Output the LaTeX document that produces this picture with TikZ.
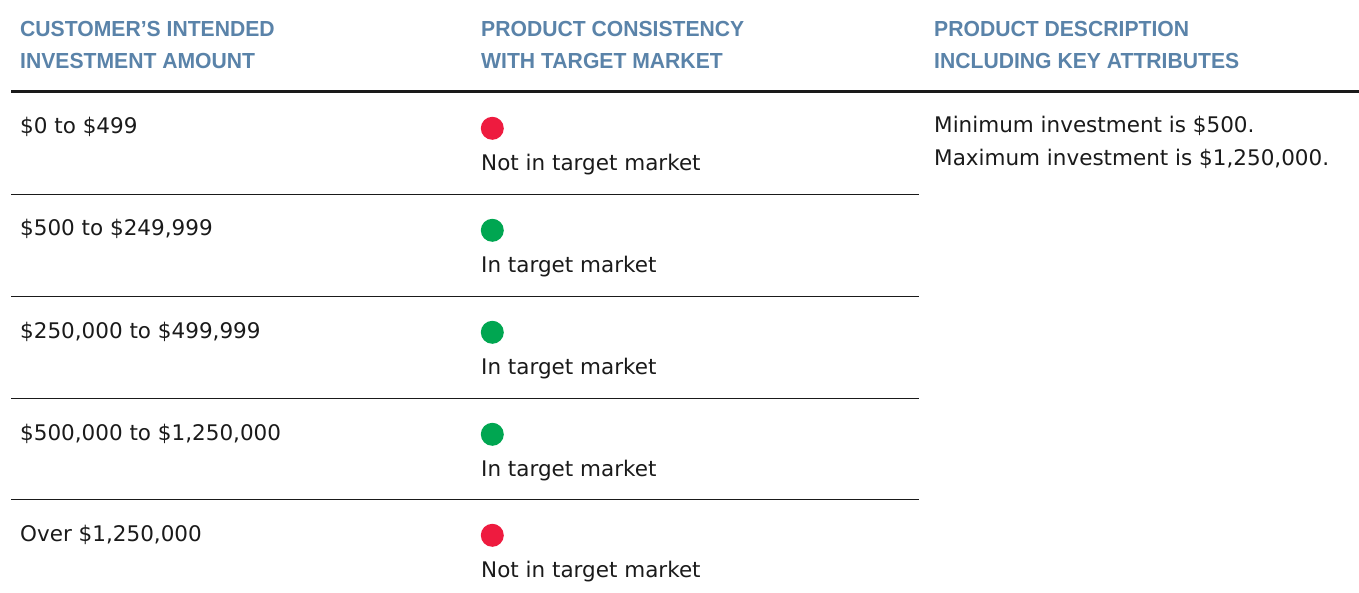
\documentclass[tikz,border=0pt]{standalone}
\usepackage{fontspec}
\setmainfont{DejaVu Sans}
\newfontfamily\hdrfont[FakeStretch=0.97]{Liberation Sans}
\definecolor{hdrblue}{HTML}{5A83A9}
\definecolor{dotred}{HTML}{EE1B3F}
\definecolor{dotgreen}{HTML}{00A651}
\definecolor{txt}{HTML}{1A1A1A}
\tikzset{
  hdr/.style={anchor=base west, inner sep=0pt, font=\hdrfont\bfseries\fontsize{21.8}{32}\selectfont, text=hdrblue, align=left},
  body/.style={anchor=base west, inner sep=0pt, font=\fontsize{21.5}{33.3}\selectfont, text=txt, align=left},
  reddot/.style={circle, fill=dotred, minimum size=23pt, inner sep=0pt},
  greendot/.style={circle, fill=dotgreen, minimum size=23pt, inner sep=0pt},
  thin/.style={line width=1.3pt, txt},
  thick/.style={line width=3pt, txt}
}
\begin{document}
\begin{tikzpicture}[x=1pt,y=-1pt]
\useasboundingbox (0,0) rectangle (1359,593);
% headers (anchor at baseline of last line)
\node[hdr] (h1) at (20,69) {CUSTOMER’S INTENDED\\INVESTMENT AMOUNT};
\node[hdr] (h2) at (481,69) {PRODUCT CONSISTENCY\\WITH TARGET MARKET};
\node[hdr] (h3) at (934,69) {PRODUCT DESCRIPTION\\INCLUDING KEY ATTRIBUTES};
% rules
\coordinate (tl) at (11,91.5);
\coordinate (tr) at (1359,91.5);
\draw[thick] (tl) -- (tr);
\foreach \y [count=\i] in {194.5,296.5,398.5,499.5}{
  \coordinate (l\i) at (11,\y);
  \coordinate (r\i) at (919,\y);
  \draw[thin] (l\i) -- (r\i);
}
% rows
\foreach \y/\amt/\st/\lab [count=\i] in {
  134/{\$0 to \$499}/reddot/{Not in target market},
  236/{\$500 to \$249,999}/greendot/{In target market},
  338/{\$250,000 to \$499,999}/greendot/{In target market},
  440/{\$500,000 to \$1,250,000}/greendot/{In target market},
  541/{Over \$1,250,000}/reddot/{Not in target market}}{
  \node[body] (amt\i) at (20,\y) {\amt};
  \node[\st] (dot\i) at (492.3,\y-5.7) {};
  \node[body] (lab\i) at (481,\y+36.7) {\lab};
}
\node[body] (desc) at (934,166) {Minimum investment is \$500.\\Maximum investment is \$1,250,000.};
\end{tikzpicture}
\end{document}
